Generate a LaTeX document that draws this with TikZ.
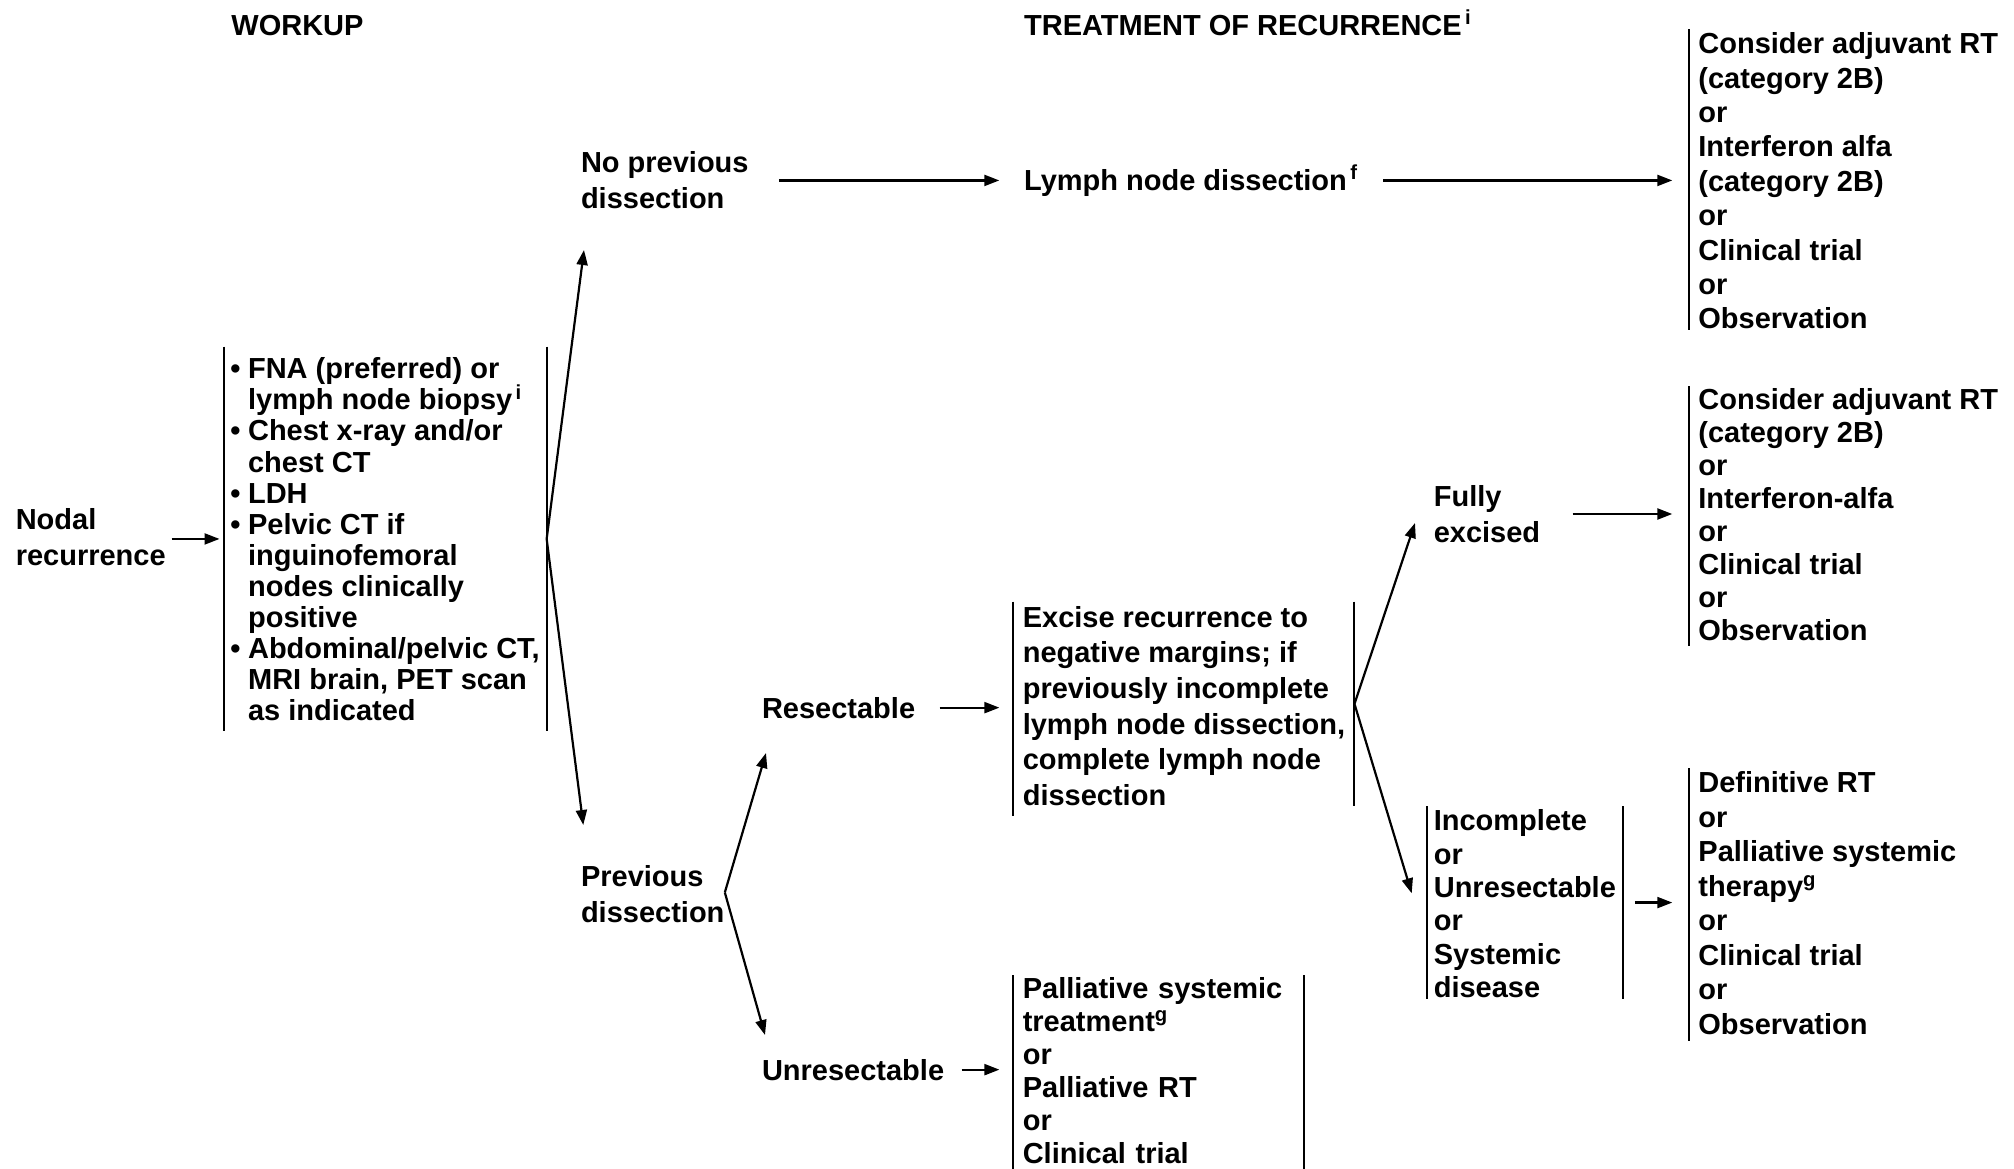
\documentclass[tikz,border=0pt]{standalone}
\usepackage{fontspec}
\setmainfont{Liberation Sans}
\usetikzlibrary{arrows.meta}
\setlength{\parindent}{0pt}
\lineskiplimit=-100pt
\newcommand{\wkbul}{\makebox[8.85pt][l]{\textbullet}}
\newcommand{\wkind}{\hspace*{8.85pt}}

\begin{document}
\begin{tikzpicture}[x=0.5pt, y=-0.5pt,
  every node/.style={inner sep=0pt, align=left, font=\bfseries\fontsize{14.5}{17.2}\selectfont},
  txt/.style={anchor=north west, font=\bfseries\fontsize{14.5}{#1}\selectfont}, txt/.default=18pt,
  barbox/.style={anchor=north west, inner xsep=4.5pt, font=\bfseries\fontsize{14.5}{#1}\selectfont}, barbox/.default=17.2pt,
  arr/.style={-{Triangle[length=7.5pt,width=5.5pt]}, line width=1.1pt},
  bar/.style={line width=1pt}]
        \useasboundingbox (0,0) rectangle (2014,1168);
        % headings
        \node[anchor=base west] (whead) at (231,35) {WORKUP};
        \node[anchor=base west] (thead) at (1023.7,35) {TREATMENT OF RECURRENCE\textsuperscript{\,i}};
        % workup
        \node[txt=17.85pt] (nodal) at (15.4,504.1) {\strut Nodal\\recurrence};
        \node[barbox=15.53pt, inner xsep=3.25pt, inner ysep=5pt] (wk) at (223.5,346.7) {\strut\wkbul FNA (preferred) or\\ \wkind lymph node biopsy\textsuperscript{\,i}\\ \wkbul Chest x-ray and/or\\ \wkind chest CT\\ \wkbul LDH\\ \wkbul Pelvic CT if\\ \wkind inguinofemoral\\ \wkind nodes clinically\\ \wkind positive\\ \wkbul Abdominal/pelvic CT,\\ \wkind MRI brain, PET scan\\ \wkind as indicated};
        \node[txt] (noprev) at (580.6,146.8) {\strut No previous\\dissection};
        \node[txt] (prev) at (580.6,861.3) {\strut Previous\\dissection};
        % treatment of recurrence
        \node[anchor=base west] (lnd) at (1023.7,190) {Lymph node dissection\textsuperscript{\,f}};
        \node[anchor=base west] (res) at (761.6,718) {Resectable};
        \node[anchor=base west] (unres) at (761.6,1080) {Unresectable};
        \node[barbox=17.83pt] (ex) at (1013.4,601.7) {\strut Excise recurrence to\\negative margins; if\\previously incomplete\\lymph node dissection,\\complete lymph node\\dissection};
        \node[barbox=16.5pt, text width=135.8pt] (pal) at (1013.4,975) {\strut Palliative systemic\\treatment\textsuperscript{g}\\or\\Palliative RT\\or\\Clinical trial};
        \node[txt] (fe) at (1433.4,480.8) {\strut Fully\\excised};
        \node[barbox=16.67pt, inner xsep=3.2pt, inner ysep=0.5pt] (inc) at (1427,806) {\strut Incomplete\\or\\Unresectable\\or\\Systemic\\disease};
        % follow-up
        \node[barbox] (rb1) at (1689,29.2) {\strut Consider adjuvant RT\\(category 2B)\\or\\Interferon alfa\\(category 2B)\\or\\Clinical trial\\or\\Observation};
        \node[barbox=16.5pt] (rb2) at (1689,386.4) {\strut Consider adjuvant RT\\(category 2B)\\or\\Interferon-alfa\\or\\Clinical trial\\or\\Observation};
        \node[barbox=17.25pt] (rb3) at (1689,768.4) {\strut Definitive RT\\or\\Palliative systemic\\therapy\textsuperscript{g}\\or\\Clinical trial\\or\\Observation};
        % bars
        \draw[bar] (wk.north west) -- (wk.south west);
        \draw[bar] (wk.north east) -- (wk.south east);
        \draw[bar] (ex.north west) -- ([yshift=-5pt]ex.south west);
        \draw[bar] (ex.north east) -- (ex.south east);
        \draw[bar] (pal.north west) -- ++(0,200);
        \draw[bar] (pal.north east) -- ++(0,200);
        \draw[bar] (inc.north west) -- (inc.south west);
        \draw[bar] (inc.north east) -- (inc.south east);
        \draw[bar] (rb1.north west) -- (rb1.south west);
        \draw[bar] (rb2.north west) -- ([yshift=-2pt]rb2.south west);
        \draw[bar] (rb3.north west) -- ([yshift=-3pt]rb3.south west);
        % straight arrows
        \draw[arr, shorten <=2.75pt, shorten >=2pt] (wk.west -| nodal.east) -- (wk.west);
        \draw[arr, shorten <=15pt, shorten >=12.2pt] (noprev.east |- lnd.west) -- (lnd.west);
        \draw[arr, shorten <=12.5pt, shorten >=8.35pt] (lnd.east) -- (lnd.east -| rb1.west);
        \draw[arr, shorten <=12pt, shorten >=7pt] (res.east) -- (res.east -| ex.west);
        \draw[arr, shorten <=8.5pt, shorten >=7pt] (unres.east) -- (unres.east -| pal.west);
        \draw[arr, shorten <=16pt, shorten >=8.35pt] (rb2.west -| fe.east) -- (rb2.west);
        \draw[arr, shorten <=6pt, shorten >=8.35pt] (inc.east) -- (inc.east -| rb3.west);
        % forks
        \coordinate (tipnp) at (584,250);
        \coordinate (tipprev) at (583.3,825);
        \coordinate (tipres) at (766,753);
        \coordinate (tipunres) at (765,1035);
        \coordinate (tipfe) at (1415,523);
        \coordinate (tipinc) at (1411.7,893.3);
        \draw[arr] (wk.east) -- (tipnp);
        \draw[arr] (wk.east) -- (tipprev);
        \draw[arr] (prev.east) -- (tipres);
        \draw[arr] (prev.east) -- (tipunres);
        \draw[arr] (ex.east) -- (tipfe);
        \draw[arr] (ex.east) -- (tipinc);
    \end{tikzpicture}
\end{document}
